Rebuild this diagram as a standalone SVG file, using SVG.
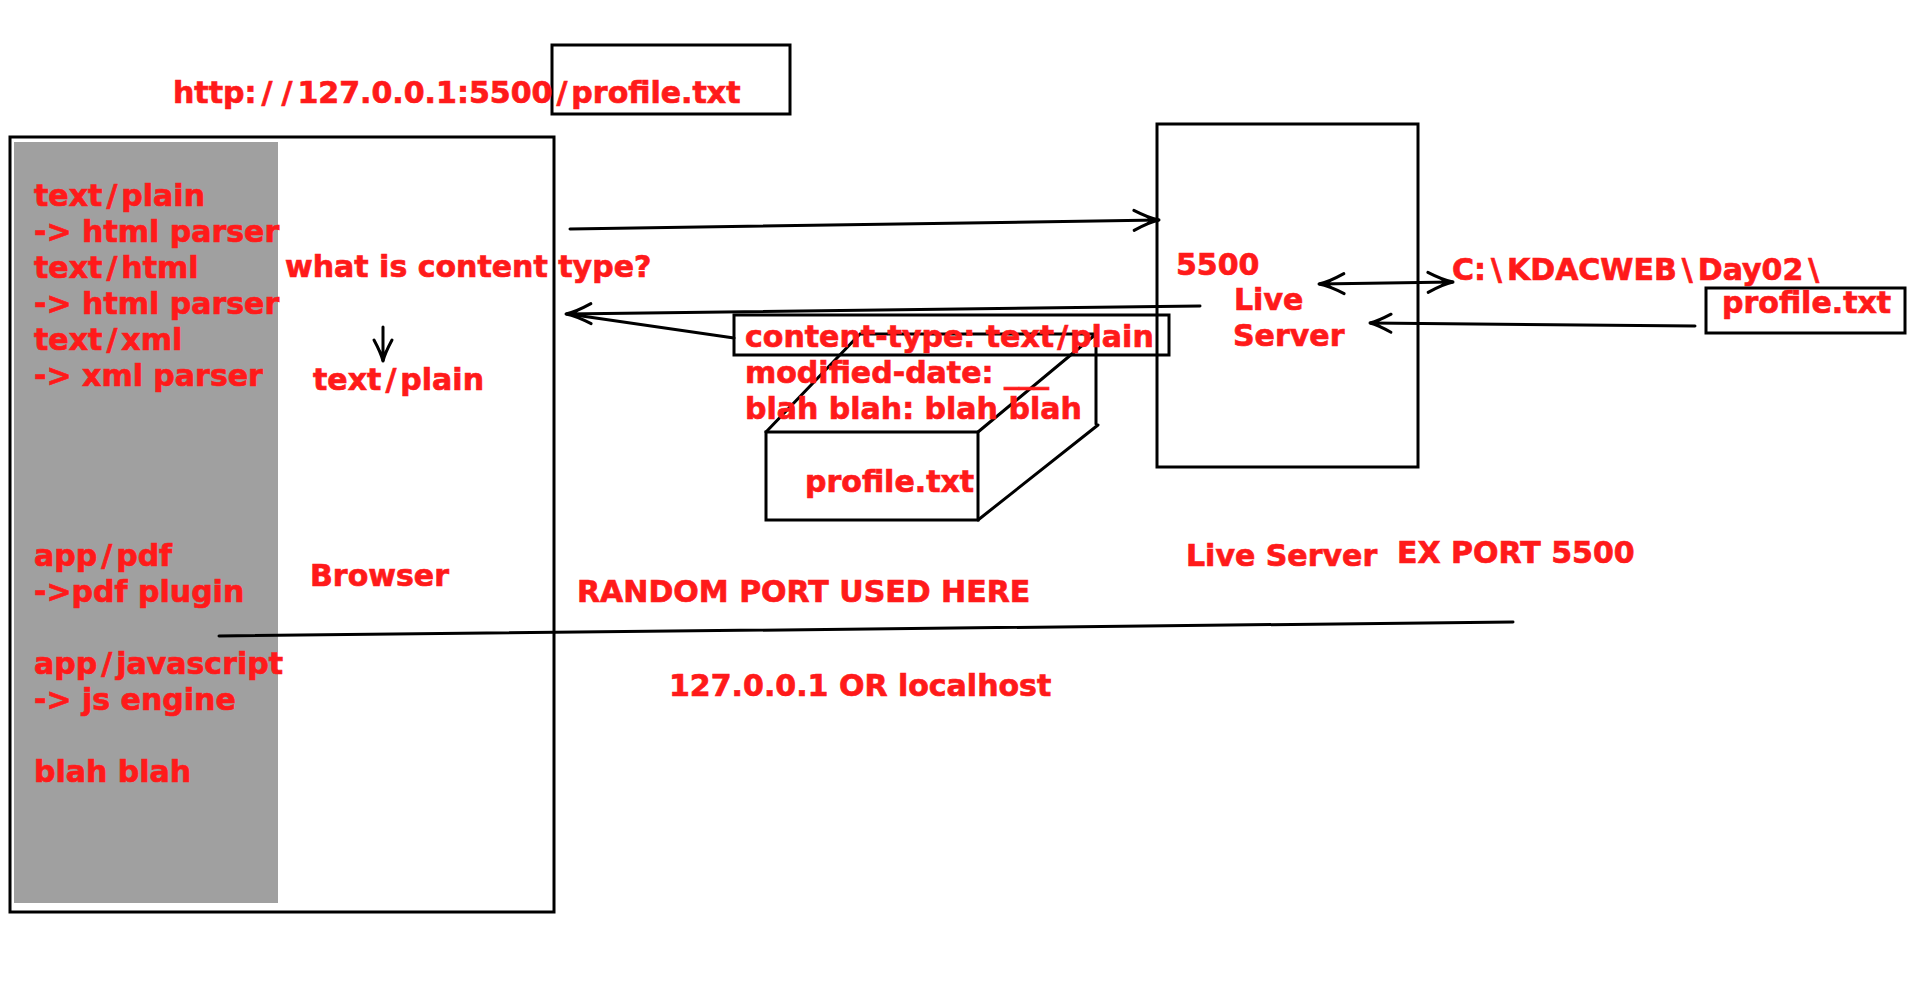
<svg xmlns="http://www.w3.org/2000/svg" width="1920" height="991" viewBox="0 0 1920 991">
<style>
  .t { font-family: "DejaVu Sans", "Liberation Sans", sans-serif; font-weight: bold; font-size: 30px; fill: #ff1a1a; stroke: #ff1a1a; stroke-width: 0.7; }
  .box { fill: none; stroke: #000; stroke-width: 3; }
  .ln { fill: none; stroke: #000; stroke-width: 3; stroke-linecap: round; }
</style>
<defs>
  <marker id="ah" markerUnits="userSpaceOnUse" viewBox="-30 -15 34 30" refX="0" refY="0" markerWidth="34" markerHeight="30" orient="auto-start-reverse" overflow="visible">
    <path d="M-25,-10 Q-10,-2 0,0 Q-10,2 -25,10" fill="none" stroke="#000" stroke-width="3" stroke-linecap="round"/>
    <path d="M0,0 L-14,-4.5 L-10,0 L-14,4.5 Z" fill="#000"/>
  </marker>
  <marker id="ahs" markerUnits="userSpaceOnUse" viewBox="-30 -15 34 30" refX="0" refY="0" markerWidth="34" markerHeight="30" orient="auto" overflow="visible">
    <path d="M-21,-9 Q-8,-2 0,0 Q-8,2 -21,9" fill="none" stroke="#000" stroke-width="3" stroke-linecap="round"/>
    <path d="M0,0 L-12,-4 L-8,0 L-12,4 Z" fill="#000"/>
  </marker>
</defs>
<rect width="1920" height="991" fill="#fff"/>

<g id="url">
  <rect class="box" x="552" y="45" width="238" height="69"/>
  <text class="t" x="173" y="103">http:<tspan dx="5">/</tspan><tspan dx="9">/</tspan><tspan dx="5">127.0.0.1:5500</tspan><tspan dx="4">/</tspan><tspan dx="4">profile.txt</tspan></text>
</g>

<g id="browser">
  <rect class="box" x="10" y="137" width="544" height="775"/>
  <rect x="14" y="142" width="264" height="761" fill="#a0a0a0"/>
  <text class="t" x="34" y="206">text<tspan dx="4">/</tspan><tspan dx="4">plain</tspan></text>
  <text class="t" x="34" y="242">-&gt; html parser</text>
  <text class="t" x="34" y="278">text<tspan dx="4">/</tspan><tspan dx="4">html</tspan></text>
  <text class="t" x="34" y="314">-&gt; html parser</text>
  <text class="t" x="34" y="350">text<tspan dx="4">/</tspan><tspan dx="4">xml</tspan></text>
  <text class="t" x="34" y="386">-&gt; xml parser</text>
  <text class="t" x="34" y="566">app<tspan dx="4">/</tspan><tspan dx="4">pdf</tspan></text>
  <text class="t" x="34" y="602">-&gt;pdf plugin</text>
  <text class="t" x="34" y="674">app<tspan dx="4">/</tspan><tspan dx="4">javascript</tspan></text>
  <text class="t" x="34" y="710">-&gt; js engine</text>
  <text class="t" x="34" y="782">blah blah</text>
  <text class="t" x="285" y="277">what is content type?</text>
  <text class="t" x="313" y="390">text<tspan dx="4">/</tspan><tspan dx="4">plain</tspan></text>
  <text class="t" x="310" y="586">Browser</text>
</g>

<g id="server">
  <rect class="box" x="1157" y="124" width="261" height="343"/>
  <text class="t" x="1176" y="275">5500</text>
  <text class="t" x="1234" y="310">Live</text>
  <text class="t" x="1233" y="346">Server</text>
</g>

<g id="file3d">
  <rect class="box" x="766" y="432" width="212" height="88"/>
  <path class="ln" d="M766,432 L860,334 L1096,334 L1096,424 M978,432 L1096,334 M978,520 L1098,425"/>
  <text class="t" x="805" y="492">profile.txt</text>
</g>

<g id="headers">
  <rect class="box" x="734" y="315" width="435" height="40"/>
  <text class="t" x="745" y="347">content-type: text<tspan dx="3">/</tspan><tspan dx="2">plain</tspan></text>
  <text class="t" x="745" y="383">modified-date: ___</text>
  <text class="t" x="745" y="419">blah blah: blah blah</text>
</g>

<g id="folder">
  <text class="t" x="1452" y="280">C:<tspan dx="5">\</tspan><tspan dx="5">KDACWEB</tspan><tspan dx="5">\</tspan><tspan dx="5">Day02</tspan><tspan dx="5">\</tspan></text>
</g>

<g id="file">
  <rect class="box" x="1706" y="288" width="199" height="45"/>
  <text class="t" x="1722" y="313">profile.txt</text>
</g>

<g id="labels">
  <text class="t" x="1186" y="566">Live Server</text>
  <text class="t" x="1397" y="563">EX PORT 5500</text>
  <text class="t" x="577" y="602">RANDOM PORT USED HERE</text>
  <text class="t" x="669" y="696">127.0.0.1 OR localhost</text>
</g>

<g id="connectors">
  <line class="ln" x1="570" y1="229" x2="1159" y2="220" marker-end="url(#ah)"/>
  <line class="ln" x1="1200" y1="306" x2="566" y2="314" marker-end="url(#ah)"/>
  <line class="ln" x1="734" y1="338" x2="568" y2="314"/>
  <line class="ln" x1="1319" y1="284" x2="1453" y2="282" marker-start="url(#ah)" marker-end="url(#ah)"/>
  <line class="ln" x1="1695" y1="326" x2="1370" y2="323" marker-end="url(#ahs)"/>
  <line class="ln" x1="383" y1="327" x2="383" y2="361" marker-end="url(#ahs)"/>
  <line class="ln" x1="219" y1="636" x2="1513" y2="622"/>
</g>
</svg>
